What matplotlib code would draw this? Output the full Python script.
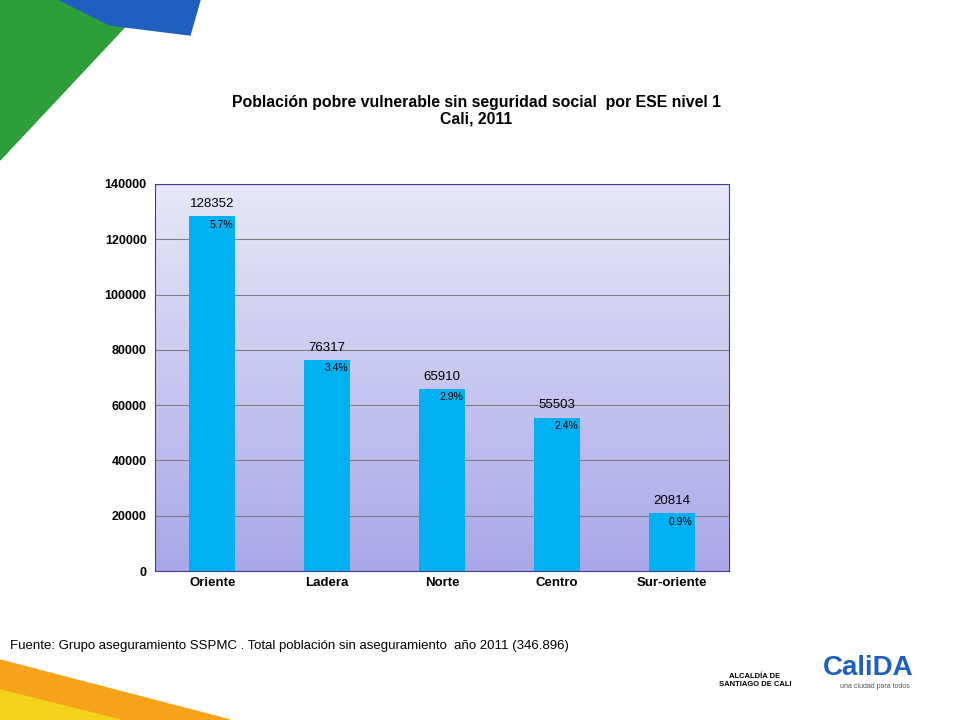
import numpy as np
import matplotlib.pyplot as plt
from matplotlib.patches import Polygon

plt.rcParams["font.family"] = "Liberation Sans"

categories = ["Oriente", "Ladera", "Norte", "Centro", "Sur-oriente"]
values = [128352, 76317, 65910, 55503, 20814]
percents = ["5.7%", "3.4%", "2.9%", "2.4%", "0.9%"]
yticks = [0, 20000, 40000, 60000, 80000, 100000, 120000, 140000]

fig = plt.figure(figsize=(9.6, 7.2), dpi=100)
W, H = 960, 720

def px(pts):
    return [(x / W, 1 - y / H) for x, y in pts]

# slide decorations
fig.patches.append(Polygon(px([(0, 0), (150, 0), (0, 160)]), closed=True,
                           transform=fig.transFigure, color="#2e9e3a", zorder=0))
fig.patches.append(Polygon(px([(60, 0), (200, 0), (190, 35), (110, 25)]), closed=True,
                           transform=fig.transFigure, color="#1f5fbf", zorder=1))
fig.patches.append(Polygon(px([(0, 660), (230, 720), (0, 720)]), closed=True,
                           transform=fig.transFigure, color="#f7a21b", zorder=0))
fig.patches.append(Polygon(px([(0, 690), (120, 720), (0, 720)]), closed=True,
                           transform=fig.transFigure, color="#f5d21b", zorder=1))

ax = fig.add_axes([155 / W, 149 / H, 574 / W, 387 / H])
grad = np.linspace(0, 1, 256).reshape(-1, 1)
ax.imshow(grad, extent=[0, 1, 0, 1], transform=ax.transAxes, aspect="auto",
          cmap=plt.matplotlib.colors.LinearSegmentedColormap.from_list(
              "g", ["#a9a7e8", "#e7e7f8"]), origin="lower", zorder=0)

x = np.arange(len(categories))
ax.bar(x, values, width=0.4, color="#00b0f0", zorder=3)
ax.set_xlim(-0.5, len(categories) - 0.5)
ax.set_ylim(0, 140000)
ax.set_yticks(yticks)
ax.set_yticklabels([str(t) for t in yticks], fontsize=9, fontweight="bold")
ax.yaxis.grid(True, color="#808080", linewidth=0.8, zorder=1)
ax.set_axisbelow(True)
ax.set_xticks(x)
ax.set_xticklabels(categories, fontsize=9.5, fontweight="bold")
ax.tick_params(axis="x", length=0, pad=4)
ax.tick_params(axis="y", length=0, pad=6)
for s in ax.spines.values():
    s.set_color("#404090")
    s.set_linewidth(0.8)

for xi, v, p in zip(x, values, percents):
    ax.text(xi, v + 2200, str(v), ha="center", va="bottom", fontsize=9.5)
    ax.text(xi + 0.08, v - 1200, p, ha="center", va="top", fontsize=7.5)

fig.text(476 / W, 1 - 111 / H, "Población pobre vulnerable sin seguridad social  por ESE nivel 1\nCali, 2011",
         ha="center", va="center", fontsize=11.4, fontweight="bold", linespacing=1.15)
fig.text(10 / W, 1 - 646 / H,
         "Fuente: Grupo aseguramiento SSPMC . Total población sin aseguramiento  año 2011 (346.896)",
         ha="left", va="center", fontsize=9.5)
fig.text(755 / W, 1 - 680 / H, "ALCALDÍA DE\nSANTIAGO DE CALI", ha="center", va="center",
         fontsize=5.5, fontweight="bold")
fig.text(868 / W, 1 - 668 / H, "CaliDA", ha="center", va="center", fontsize=20,
         fontweight="bold", color="#1f5fbf")
fig.text(875 / W, 1 - 687 / H, "una ciudad para todos", ha="center", va="center",
         fontsize=5, color="#555555")

fig.savefig("out.png", dpi=100)
